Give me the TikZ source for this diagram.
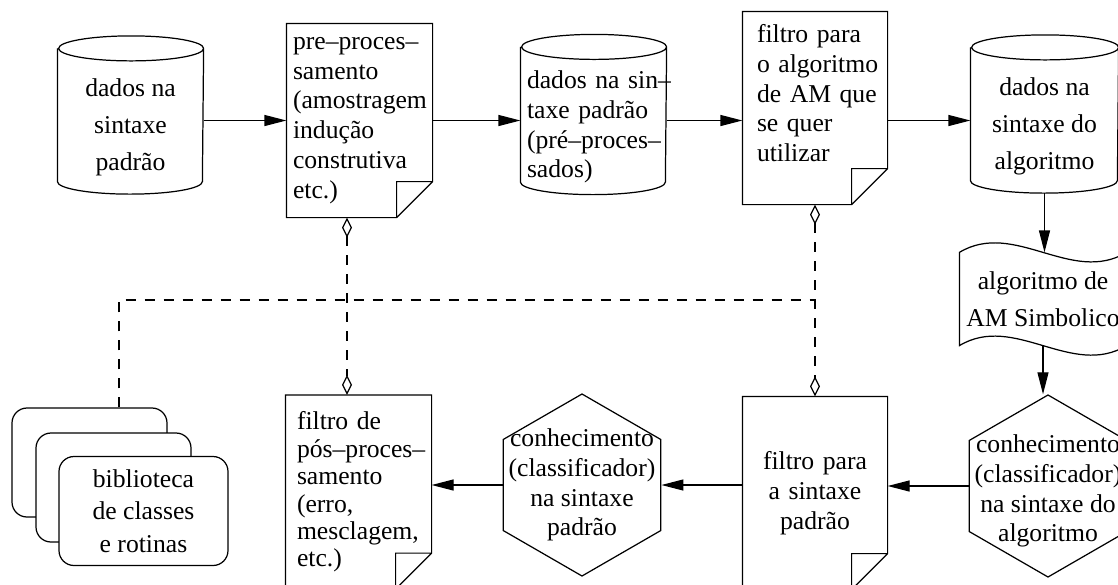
\documentclass[tikz,border=0pt]{standalone}
\usepackage{fontspec}
\setmainfont{Liberation Serif}
\usetikzlibrary{shapes.geometric,arrows.meta}

\begin{document}
\begin{tikzpicture}[line width=0.7pt,
    every node/.style={font=\fontsize{14.6}{17}\selectfont},
    espaco/.style={font=\fontsize{14.6}{21}\selectfont},
    cilindro/.style={rectangle, minimum width=2.9cm, minimum height=2.64cm, inner sep=0pt},
    documento/.style={rectangle, minimum width=2.9cm, minimum height=3.86cm, inner xsep=0pt},
    hexagono/.style={regular polygon, regular polygon sides=6, shape border rotate=30,
        draw, minimum size=3.64cm, inner sep=0pt},
    onda/.style={rectangle, minimum width=3.32cm, minimum height=1.84cm, align=center},
    cartao/.style={rectangle, rounded corners=0.3cm, draw, fill=white,
        minimum width=3.1cm, minimum height=2.18cm, align=center},
    seta/.style={-{Triangle[length=0.44cm, width=0.22cm]}},
    tracejado/.style={dash pattern=on 0.2cm off 0.18cm},
    losango/.style={{Diamond[open, length=0.4cm, width=0.2cm]}-{Diamond[open, length=0.4cm, width=0.2cm]}}]

    \useasboundingbox (0,0) rectangle (22.36,-11.68);

    % Linha de cima
    \node[cilindro, espaco, align=center] (dadospad) at (2.61,-2.55) {dados na\\sintaxe\\padrão};
    \node[documento, text width=2.66cm, align=left] (preproc) at (7.19,-2.41) {pre–proces–\\samento\\(amostragem\\indução\\construtiva\\etc.)};
    \node[cilindro, minimum height=2.68cm, text width=2.66cm, align=left] (dadospre) at (11.87,-2.54) {\mbox{dados na sin–}\\taxe padrão\\\mbox{(pré–proces–}\\sados)};
    \node[documento, minimum width=2.88cm, minimum height=3.84cm, text width=2.32cm, align=left] (filtroam) at (16.3,-2.16) {filtro para\\\mbox{o algoritmo}\\\mbox{de AM que}\\se quer\\utilizar\\\mbox{}};
    \node[cilindro, espaco, minimum width=2.94cm, align=center] (dadosalg) at (20.89,-2.53) {dados na\\sintaxe do\\algoritmo};

    % Coluna da direita
    \node[onda, espaco] (algam) at (20.86,-5.98) {algoritmo de\\AM Simbolico};
    \node[hexagono, label={[align=center, yshift=-0.1cm]center:conhecimento\\(classificador)\\na sintaxe do\\algoritmo}] (conhalg) at (20.96,-9.72) {};

    % Linha de baixo
    \node[documento, minimum width=2.88cm, minimum height=3.84cm, text width=2.5cm, align=center] (filtropad) at (16.3,-9.86) {filtro para\\a sintaxe\\padrão};
    \node[hexagono, label={[align=center]center:conhecimento\\(classificador)\\na sintaxe\\padrão}] (conhpad) at (11.64,-9.70) {};
    \node[documento, text width=2.46cm, align=left, font=\fontsize{14.6}{15.6}\selectfont] (filtropos) at (7.17,-9.84) {filtro de\\\mbox{pós–proces–}\\samento\\(erro,\\\mbox{mesclagem,}\\etc.)};

    % Biblioteca
    \node[cartao] (libfundo) at (1.79,-9.25) {};
    \node[cartao] (libmeio) at (2.27,-9.75) {};
    \node[cartao, minimum width=3.38cm, font=\fontsize{14.6}{18.4}\selectfont] (lib) at (2.87,-10.22) {biblioteca\\de classes\\e rotinas};

    \coordinate (juncao) at (16.3,-6.0);

    % Contornos: cilindros, documentos e fita
    \foreach \c/\r in {dadospad/1.45, dadospre/1.45, dadosalg/1.47}
        \draw ([yshift=0.25cm]\c.north west) -- ([yshift=0.25cm]\c.south west)
              arc[start angle=180, end angle=360, x radius=\r cm, y radius=0.25cm]
              -- ([yshift=0.25cm]\c.north east)
              arc[start angle=0, end angle=360, x radius=\r cm, y radius=0.25cm];
    \foreach \d in {preproc, filtroam, filtropad, filtropos}
        \draw (\d.south west) -- (\d.north west) -- (\d.north east) -- ([yshift=0.72cm]\d.south east)
              -- ([xshift=-0.72cm]\d.south east) -- cycle
              ([xshift=-0.72cm]\d.south east) |- ([yshift=0.72cm]\d.south east);
    \draw (algam.north west) .. controls +(1.1,0.66) and +(-1.1,-0.66) .. (algam.north east)
          -- (algam.south east) .. controls +(-1.1,-0.66) and +(1.1,0.66) .. (algam.south west) -- cycle;

    % Setas
    \draw[seta] (dadospad.east |- preproc.west) -- (preproc.west);
    \draw[seta] (preproc.east) -- (preproc.east -| dadospre.west);
    \draw[seta] (dadospre.east |- preproc.east) -- (preproc.east -| filtroam.west);
    \draw[seta] (filtroam.east |- preproc.east) -- (preproc.east -| dadosalg.west);
    \draw[seta] (dadosalg.south) -- (dadosalg.south |- algam.north);
    \draw[seta] (algam.south) -- (algam.south |- conhalg.north);
    \draw[seta] (conhalg.west) -- (conhalg.west -| filtropad.east);
    \draw[seta] (filtropad.west |- conhpad.east) -- (conhpad.east);
    \draw[seta] (conhpad.west) -- (conhpad.west -| filtropos.east);

    % Ligacoes tracejadas
    \draw[tracejado, losango] ([xshift=-0.25cm]preproc.south) -- ([xshift=-0.25cm]preproc.south |- filtropos.north);
    \draw[tracejado, losango] (filtroam.south) -- (filtroam.south |- filtropad.north);
    \draw[tracejado] ([xshift=0.59cm]libfundo.north) |- (juncao);
\end{tikzpicture}
\end{document}
